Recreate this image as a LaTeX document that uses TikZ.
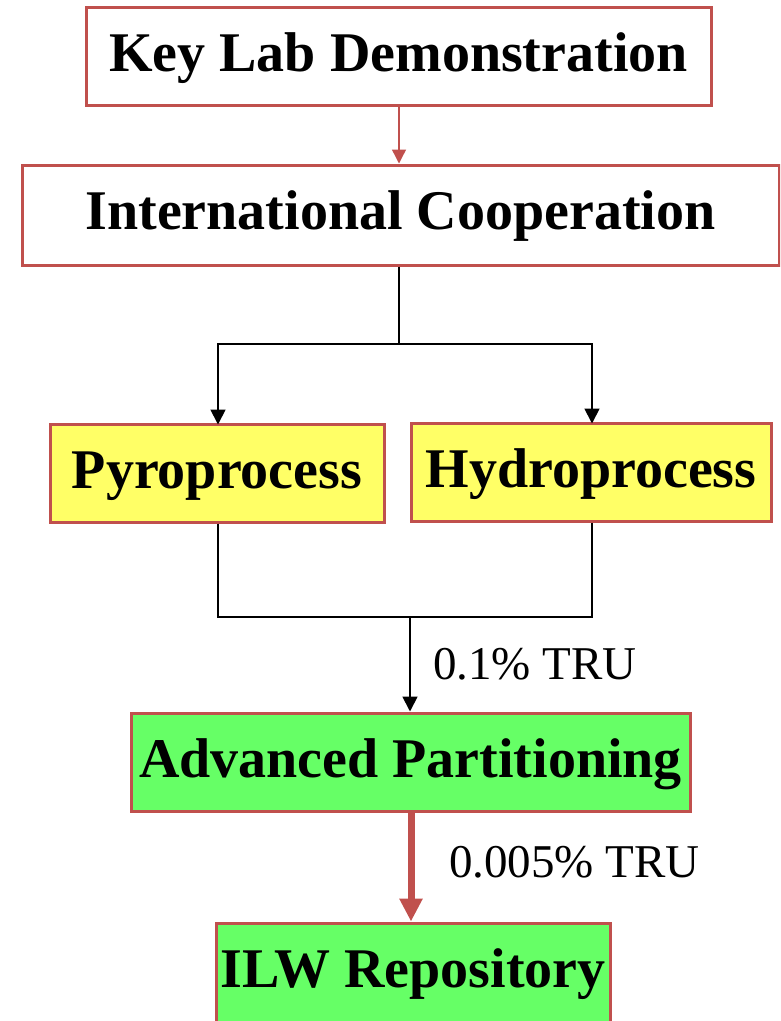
\documentclass[tikz,border=0pt]{standalone}
\usepackage{fontspec}
\setmainfont{Liberation Serif}
\usetikzlibrary{arrows.meta}
\definecolor{boxred}{HTML}{C0504D}
\definecolor{pyrofill}{HTML}{FFFF66}
\definecolor{greenfill}{HTML}{66FF66}
\begin{document}
\begin{tikzpicture}[x=1pt,y=1pt,
  box/.style={draw=boxred, line width=3pt, inner sep=0pt},
  title/.style={anchor=base, inner sep=0pt, font=\fontsize{56}{60}\selectfont\bfseries},
  note/.style={anchor=base west, inner sep=0pt, font=\fontsize{47}{52}\selectfont},
  flow/.style={draw=black, line width=1.8pt, -{Triangle[length=15pt,width=15pt]}},
  plain/.style={draw=black, line width=1.8pt},
  thinred/.style={draw=boxred, line width=1.4pt, -{Triangle[length=14pt,width=14pt]}},
  thickred/.style={draw=boxred, line width=7pt, -{Triangle[length=23pt,width=22pt]}}]
\useasboundingbox (0,0) rectangle (780,-1021);
\clip (0,0) rectangle (780,-1021);

% boxes
\node[box, fill=white, minimum width=625pt, minimum height=98pt] (kl) at (398.5,-56) {};
\node[title] (klt) at (398.5,-71) {Key Lab Demonstration};

\node[box, fill=white, minimum width=757pt, minimum height=100pt] (ic) at (400.5,-215) {};
\node[title] (ict) at (400.5,-229) {International Cooperation};

\node[box, fill=pyrofill, minimum width=334pt, minimum height=98pt] (pyro) at (217,-473) {};
\node[title] (pyrot) at (217,-488) {Pyroprocess};

\node[box, fill=pyrofill, minimum width=360pt, minimum height=98pt] (hydro) at (591,-472) {};
\node[title] (hydrot) at (591,-487) {Hydroprocess};

\node[box, fill=greenfill, minimum width=559pt, minimum height=98pt] (adv) at (410.5,-762) {};
\node[title] (advt) at (410.5,-777) {Advanced Partitioning};

% the repository box runs past the lower edge of the page
\node[box, fill=greenfill, minimum width=394pt, minimum height=106pt] (ilw) at (413,-976) {};
\node[title] (ilwt) at (413,-987) {ILW Repository};

% connectors
\coordinate (split) at (399,-344);
\coordinate (merge) at (410,-617);

\draw[thinred] (kl.south -| split) -- (ic.north -| split);

\draw[plain] (ic.south -| split) -- (split);
\draw[flow] (split) -| (218,-424.5) coordinate (pyroin);
\draw[flow] (split) -| (592,-423.5) coordinate (hydroin);

\draw[plain] (pyro.south -| 218,0) |- (merge);
\draw[plain] (hydro.south -| 592,0) |- (merge);
\draw[flow] (merge) -- (adv.north -| merge);

\draw[thickred] (adv.south -| 411,0) -- (ilw.north -| 411,0);

% labels
\node[note] (l1) at (433,-679) {0.1\% TRU};
\node[note] (l2) at (449,-877) {0.005\% TRU};
\end{tikzpicture}
\end{document}
